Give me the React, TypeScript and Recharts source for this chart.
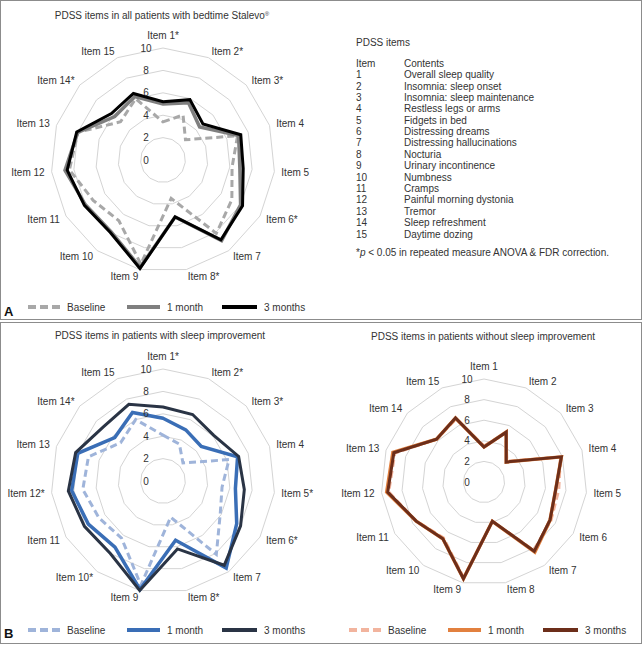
import React from "react";
import { RadarChart, Radar, PolarGrid, PolarAngleAxis, PolarRadiusAxis } from "recharts";

// PDSS item numbers and which ones carry a significance star per chart
const itemNumbers = [1, 2, 3, 4, 5, 6, 7, 8, 9, 10, 11, 12, 13, 14, 15];
const starsAll = [1, 2, 3, 6, 8, 14];
const starsImproved = [1, 2, 3, 5, 6, 8, 10, 12, 14];
const starsNotImproved: number[] = [];

// all patients
const allBaseline = [3.4, 4.4, 2.7, 7.0, 6.2, 7.1, 8.1, 3.5, 9.5, 6.7, 7.2, 8.4, 8.0, 5.1, 6.0];
const all1Month = [5.0, 5.6, 4.4, 7.1, 6.9, 8.0, 8.9, 5.2, 9.8, 7.9, 8.0, 8.8, 8.0, 5.8, 6.2];
const all3Months = [5.2, 5.9, 4.8, 7.3, 7.2, 8.2, 8.8, 5.2, 9.9, 8.0, 8.1, 8.6, 8.1, 6.2, 6.5];

// with sleep improvement
const impBaseline = [4.1, 3.6, 2.4, 6.2, 5.3, 5.9, 8.1, 3.3, 9.5, 6.3, 6.6, 7.2, 7.0, 5.1, 6.0];
const imp1Month = [5.6, 5.0, 4.6, 7.0, 6.5, 7.6, 9.6, 5.4, 9.9, 7.3, 7.7, 8.2, 8.0, 5.8, 6.7];
const imp3Months = [6.6, 6.5, 6.1, 7.1, 7.3, 8.0, 9.3, 6.2, 10.0, 8.0, 8.1, 8.5, 8.2, 7.2, 7.5];

// without sleep improvement
const noBaseline = [3.5, 5.2, 3.0, 7.8, 7.3, 7.5, 8.2, 3.9, 9.5, 6.7, 7.6, 9.3, 9.1, 6.2, 6.7];
const no1Month = [3.4, 5.3, 2.9, 7.9, 7.0, 7.4, 8.4, 3.9, 9.6, 6.8, 7.6, 9.5, 9.3, 6.2, 6.8];
const no3Months = [3.4, 5.3, 2.9, 7.9, 7.0, 7.4, 8.3, 3.9, 9.6, 6.8, 7.6, 9.4, 9.2, 6.2, 6.8];

const legendLabels = ["Baseline", "1 month", "3 months"];

const tableRows = [
  "Overall sleep quality",
  "Insomnia: sleep onset",
  "Insomnia: sleep maintenance",
  "Restless legs or arms",
  "Fidgets in bed",
  "Distressing dreams",
  "Distressing hallucinations",
  "Nocturia",
  "Urinary incontinence",
  "Numbness",
  "Cramps",
  "Painful morning dystonia",
  "Tremor",
  "Sleep refreshment",
  "Daytime dozing",
];

const FONT = '"Liberation Sans", Arial, Helvetica, sans-serif';
const TEXT = "#333";
const GRID = "#d4d4d4";

const buildData = (stars: number[], base: number[], m1: number[], m3: number[]) =>
  itemNumbers.map((n, i) => ({
    item: `Item ${n}${stars.includes(n) ? "*" : ""}`,
    baseline: base[i],
    month1: m1[i],
    month3: m3[i],
  }));

const angleTick = (cx: number, cy: number, r: number) => (props: any) => {
  const { payload } = props;
  const a = (payload.coordinate * Math.PI) / 180;
  const cos = Math.cos(a);
  const sin = Math.sin(a);
  const vertical = Math.abs(cos) < 0.01;
  const rr = r + 7 + (vertical ? 6 : 0);
  const anchor = cos > 0.01 ? "start" : cos < -0.01 ? "end" : "middle";
  return (
    <text x={cx + rr * cos} y={cy - rr * sin} dy="0.35em" textAnchor={anchor}
      fontSize={10} fill={TEXT} fontFamily={FONT}>
      {payload.value}
    </text>
  );
};

const radiusTick = (props: any) => (
  <text x={props.x - 17} y={props.y} dy="0.35em" textAnchor="middle"
    fontSize={10} fill={TEXT} fontFamily={FONT}>
    {props.payload.value}
  </text>
);

type Colors = { base: string; m1: string; m3: string };

function Spider({ data, left, top, width, height, cx, cy, r, colors }: any) {
  const c: Colors = colors;
  return (
    <div style={{ position: "absolute", left, top, width, height }}>
      <RadarChart width={width} height={height} data={data} cx={cx} cy={cy} outerRadius={r}>
        <PolarGrid gridType="polygon" radialLines={false} stroke={GRID} />
        <PolarAngleAxis dataKey="item" tick={angleTick(cx, cy, r)} tickLine={false} axisLine={false} />
        <PolarRadiusAxis angle={90} domain={[0, 10]} tickCount={6} axisLine={false} tick={radiusTick} />
        <Radar dataKey="baseline" stroke={c.base} strokeWidth={3} strokeDasharray="7 4"
          fill="none" fillOpacity={0} dot={false} isAnimationActive={false} />
        <Radar dataKey="month1" stroke={c.m1} strokeWidth={3.5}
          fill="none" fillOpacity={0} dot={false} isAnimationActive={false} />
        <Radar dataKey="month3" stroke={c.m3} strokeWidth={3}
          fill="none" fillOpacity={0} dot={false} isAnimationActive={false} />
      </RadarChart>
    </div>
  );
}

function LegendRow({ y, starts, lens, colors }: { y: number; starts: number[]; lens: number[]; colors: Colors }) {
  const cols = [colors.base, colors.m1, colors.m3];
  return (
    <g>
      {legendLabels.map((lab, i) => (
        <g key={lab}>
          <line x1={starts[i]} x2={starts[i] + lens[i]} y1={y} y2={y} stroke={cols[i]} strokeWidth={4}
            strokeDasharray={i === 0 ? "8 4" : undefined} />
          <text x={starts[i] + lens[i] + 7} y={y} dy="0.35em" fontSize={10} fill={TEXT} fontFamily={FONT}>{lab}</text>
        </g>
      ))}
    </g>
  );
}

const grayCols: Colors = { base: "#a8a8a8", m1: "#7f7f7f", m3: "#000000" };
const blueCols: Colors = { base: "#9fb4da", m1: "#3a6eb6", m3: "#2a3445" };
const brownCols: Colors = { base: "#f2b49e", m1: "#e2803f", m3: "#6c2e1a" };

export default function App() {
  const dataAll = buildData(starsAll, allBaseline, all1Month, all3Months);
  const dataImp = buildData(starsImproved, impBaseline, imp1Month, imp3Months);
  const dataNo = buildData(starsNotImproved, noBaseline, no1Month, no3Months);

  return (
    <div style={{ position: "absolute", left: 0, top: 0, width: 642, height: 645, background: "#fff", fontFamily: FONT }}>
      <Spider data={dataAll} left={0} top={0} width={321} height={319} cx={163} cy={160} r={112} colors={grayCols} />
      <Spider data={dataImp} left={0} top={322} width={321} height={322} cx={163} cy={159} r={112} colors={blueCols} />
      <Spider data={dataNo} left={321} top={322} width={320} height={322} cx={163} cy={160} r={103} colors={brownCols} />

      <svg width={642} height={645} style={{ position: "absolute", left: 0, top: 0, pointerEvents: "none" }}>
        <rect x={0.5} y={0.5} width={641} height={319} fill="none" stroke="#8c8c8c" />
        <rect x={0.5} y={322.5} width={641} height={321} fill="none" stroke="#8c8c8c" />

        <text x={162} y={15} dy="0.35em" textAnchor="middle" fontSize={10} fill={TEXT} fontFamily={FONT}>
          PDSS items in all patients with bedtime Stalevo<tspan fontSize={6} dy={-3}>®</tspan>
        </text>
        <text x={160} y={335} dy="0.35em" textAnchor="middle" fontSize={10} fill={TEXT} fontFamily={FONT}>
          PDSS items in patients with sleep improvement
        </text>
        <text x={483} y={336} dy="0.35em" textAnchor="middle" fontSize={10} fill={TEXT} fontFamily={FONT}>
          PDSS items in patients without sleep improvement
        </text>

        <text x={356} y={42} dy="0.35em" fontSize={10} fill={TEXT} fontFamily={FONT}>PDSS items</text>
        <text x={356} y={63.3} dy="0.35em" fontSize={10} fill={TEXT} fontFamily={FONT}>Item</text>
        <text x={404} y={63.3} dy="0.35em" fontSize={10} fill={TEXT} fontFamily={FONT}>Contents</text>
        {tableRows.map((row, i) => (
          <g key={row}>
            <text x={356} y={74.7 + i * 11.38} dy="0.35em" fontSize={10} fill={TEXT} fontFamily={FONT}>{itemNumbers[i]}</text>
            <text x={404} y={74.7 + i * 11.38} dy="0.35em" fontSize={10} fill={TEXT} fontFamily={FONT}>{row}</text>
          </g>
        ))}
        <text x={356} y={252} dy="0.35em" fontSize={10} fill={TEXT} fontFamily={FONT}>
          *<tspan fontStyle="italic">p</tspan> {"< 0.05 in repeated measure ANOVA & FDR correction."}
        </text>

        <LegendRow y={307} starts={[28, 127, 222]} lens={[32, 33, 35]} colors={grayCols} />
        <LegendRow y={630} starts={[28, 127, 222]} lens={[32, 33, 35]} colors={blueCols} />
        <LegendRow y={630} starts={[349, 448, 543]} lens={[32, 33, 35]} colors={brownCols} />

        <text x={4} y={316} fontSize={13} fontWeight="bold" fill="#111" fontFamily={FONT}>A</text>
        <text x={4} y={638} fontSize={13} fontWeight="bold" fill="#111" fontFamily={FONT}>B</text>
      </svg>
    </div>
  );
}
